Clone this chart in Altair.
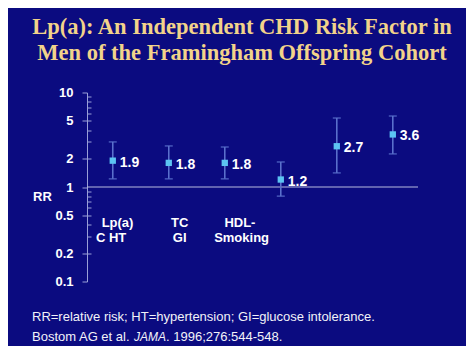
import altair as alt
import pandas as pd

# ---- data ----
factors = ["Lp(a)", "TC", "HDL-C", "HT", "GI", "Smoking"]
positions = [1, 2, 3, 4, 5, 6]
rr = [1.9, 1.8, 1.8, 1.2, 2.7, 3.6]
rr_labels = ["1.9", "1.8", "1.8", "1.2", "2.7", "3.6"]
ci_low = [1.22, 1.22, 1.22, 0.80, 1.41, 2.24]
ci_high = [3.0, 2.72, 2.65, 1.84, 5.37, 5.64]

cat_text = ["Lp(a)", "C HT", "TC", "GI", "HDL-", "Smoking"]
cat_x = [1.085, 0.97, 2.195, 2.195, 3.27, 3.30]
cat_y = [0.413, 0.286, 0.413, 0.286, 0.413, 0.286]

y_ticks = [0.1, 0.2, 0.5, 1, 2, 5, 10]
minor_ticks = [0.2, 0.3, 0.4, 0.5, 0.6, 0.7, 0.8, 0.9, 2, 3, 4, 5, 6, 7, 8, 9]

title_lines = ["Lp(a): An Independent CHD Risk Factor in",
               "Men of the Framingham Offspring Cohort"]
foot_line1 = "RR=relative risk; HT=hypertension; GI=glucose intolerance."
foot_line2_parts = ["Bostom AG et al.", "JAMA", ". 1996;276:544-548."]

BG = "#0b0b80"
AXIS_C = "#9aa0d8"
BAR_C = "#5a70cc"
PT_C = "#5cc4f2"
TITLE_C = "#f2d38a"
SANS = "Liberation Sans"
SERIF = "Liberation Serif"

W, H = 331, 189

df = pd.DataFrame({"factor": factors, "pos": positions, "rr": rr,
                   "lab": rr_labels, "lo": ci_low, "hi": ci_high})
cats = pd.DataFrame({"t": cat_text, "x": cat_x, "y": cat_y})

xs = alt.Scale(domain=[0.54, 6.45])
ys = alt.Scale(type="log", domain=[0.1, 10])

main_axis = alt.Axis(values=y_ticks, format="~g", grid=False,
                     labelColor="white", labelFont=SANS, labelFontSize=13,
                     labelFontWeight="bold", labelPadding=9,
                     domainColor=AXIS_C, tickColor=AXIS_C, tickSize=5,
                     title="RR", titleAngle=0, titleColor="white",
                     titleFont=SANS, titleFontSize=13, titleFontWeight="bold",
                     titleX=-45, titleY=104, titleAlign="center",
                     titleBaseline="middle", orient="left")
minor_axis = alt.Axis(values=minor_ticks, labels=False, domain=False,
                      grid=False, tickColor=AXIS_C, tickSize=4, title="",
                      orient="right", offset=-W)

ref = alt.Chart(pd.DataFrame({"ref": [1]})).mark_rule(
    color="#b8bce0", strokeWidth=1.2
).encode(y=alt.Y("ref:Q", scale=ys, axis=main_axis))

minor = alt.Chart(pd.DataFrame({"m": [1]})).mark_point(opacity=0).encode(
    y=alt.Y("m:Q", scale=ys, axis=minor_axis))

base = alt.Chart(df)
bars = base.mark_rule(color=BAR_C, strokeWidth=1.6).encode(
    x=alt.X("pos:Q", scale=xs, axis=None),
    y=alt.Y("lo:Q", scale=ys, axis=None), y2="hi:Q")
cap_lo = base.mark_tick(color=BAR_C, orient="horizontal", size=8, thickness=1.6).encode(
    x=alt.X("pos:Q", scale=xs, axis=None), y=alt.Y("lo:Q", scale=ys, axis=None))
cap_hi = base.mark_tick(color=BAR_C, orient="horizontal", size=8, thickness=1.6).encode(
    x=alt.X("pos:Q", scale=xs, axis=None), y=alt.Y("hi:Q", scale=ys, axis=None))
pts = base.mark_square(size=40, color=PT_C, opacity=1).encode(
    x=alt.X("pos:Q", scale=xs, axis=None), y=alt.Y("rr:Q", scale=ys, axis=None))
vals = base.mark_text(align="left", baseline="middle", dx=7, dy=2,
                      font=SANS, fontSize=14, fontWeight="bold", color="white").encode(
    x=alt.X("pos:Q", scale=xs, axis=None), y=alt.Y("rr:Q", scale=ys, axis=None),
    text="lab:N")
catlab = alt.Chart(cats).mark_text(align="center", baseline="middle", font=SANS,
                                   fontSize=13, fontWeight="bold", color="white").encode(
    x=alt.X("x:Q", scale=xs, axis=None), y=alt.Y("y:Q", scale=ys, axis=None), text="t:N")


def label(text, x, y, **kw):
    return alt.Chart(pd.DataFrame({"t": [text]})).mark_text(**kw).encode(
        text="t:N", x=alt.value(x), y=alt.value(y))


tkw = dict(align="center", baseline="alphabetic", font=SERIF, fontSize=22.5,
           fontWeight="bold", color=TITLE_C)
t1 = label(title_lines[0], 155, -58.5, **tkw)
t2 = label(title_lines[1], 155, -32.5, **tkw)

fkw = dict(align="left", baseline="alphabetic", font=SANS, color="#f2f2f8")
f1 = label(foot_line1, -55, 228.5, fontSize=13, **fkw)
f2a = label(foot_line2_parts[0], -55, 248.5, fontSize=13, **fkw)
f2b = label(foot_line2_parts[1], 47, 248.5, fontSize=12, fontStyle="italic", **fkw)
f2c = label(foot_line2_parts[2], 79, 248.5, fontSize=13, **fkw)

chart = alt.layer(ref, minor, bars, cap_lo, cap_hi, pts, vals, catlab,
                  t1, t2, f1, f2a, f2b, f2c).resolve_axis(y="independent").properties(
    width=W, height=H,
    autosize=alt.AutoSizeParams(type="none"),
    padding={"left": 79, "top": 84.5, "right": 48, "bottom": 64},
    background=BG,
).configure_view(stroke=None)

chart.save("out.html", embed_options={"renderer": "svg", "actions": False})
